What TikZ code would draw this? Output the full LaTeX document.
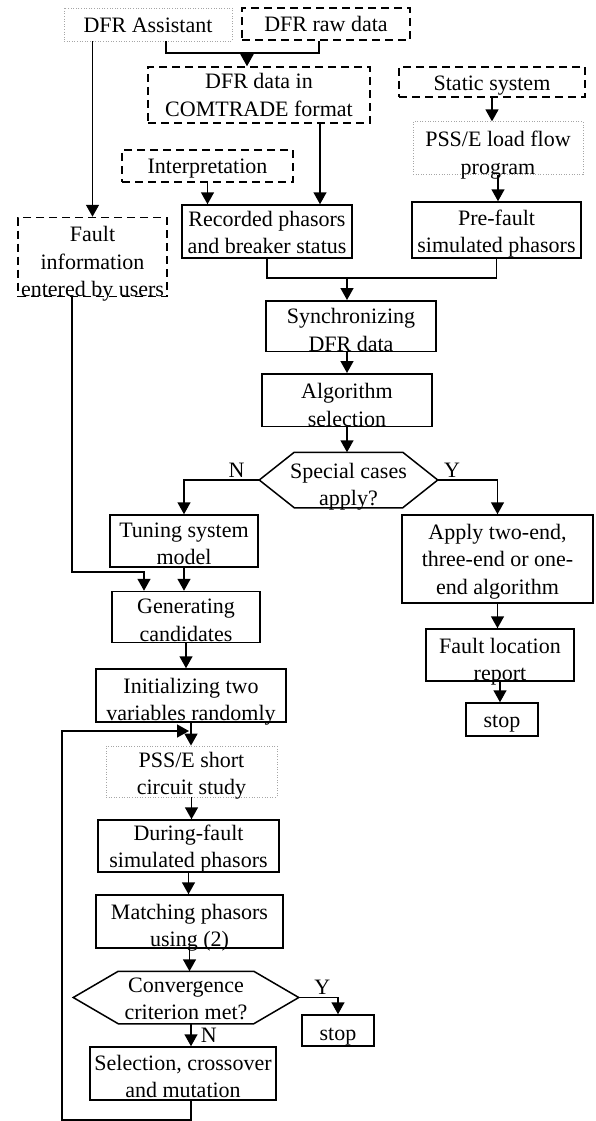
\documentclass[tikz,border=0pt]{standalone}
\usepackage{fontspec}
\setmainfont{Liberation Serif}
\usetikzlibrary{shapes,arrows.meta,calc}

\begin{document}
\begin{tikzpicture}[
  x=1pt, y=-1pt,
  every node/.style={font=\fontsize{22}{27.5}\selectfont},
  base/.style={anchor=center, align=center, inner sep=0pt, line width=1.5pt},
  sz/.style n args={3}{minimum width=#1, text height=#2, text depth=#3},
  solidbox/.style={base, draw, rectangle},
  dashbox/.style={base, draw, rectangle, dash pattern=on 8pt off 5pt},
  dotbox/.style={base, draw=gray!70, rectangle, line width=0.8pt, dash pattern=on 1pt off 1.6pt},
  hexbox/.style={base, rectangle},
  lbl/.style={inner sep=2pt},
  line/.style={line width=1.5pt},
  arr/.style={line, -{Triangle[length=12pt,width=13pt]}}
  ]
  \useasboundingbox (0,0) rectangle (595,1121);

  \node[dotbox, sz={168pt}{25pt}{8pt}] (asst) at (148,24.5) {DFR Assistant};
  \node[dashbox, sz={168pt}{24pt}{8pt}] (raw) at (326,24) {DFR raw data};
  \node[dashbox, sz={222pt}{49.5pt}{6.5pt}] (comtrade) at (259,95) {DFR data in\\COMTRADE format};
  \node[dashbox, sz={171pt}{23pt}{9pt}] (interp) at (207.5,166) {Interpretation};
  \node[dashbox, sz={186pt}{24pt}{6pt}] (static) at (492,82) {Static system};
  \node[dotbox, sz={170pt}{52.5pt}{-0.5pt}] (lflow) at (498,148) {PSS/E load flow\\program};
  \node[dashbox, sz={149pt}{79pt}{-1pt}] (fault) at (92.5,257) {Fault\\information\\entered by users};
  \node[solidbox, sz={170pt}{48.5pt}{4.5pt}] (rec) at (267,231.5) {Recorded phasors\\and breaker status};
  \node[solidbox, sz={169pt}{50.5pt}{5.5pt}] (pre) at (496.5,230) {Pre-fault\\simulated phasors};
  \node[solidbox, sz={170pt}{50.5pt}{-2.5pt}] (sync) at (351,326) {Synchronizing\\DFR data};
  \node[solidbox, sz={170pt}{52.5pt}{-2.5pt}] (algo) at (347,400) {Algorithm\\selection};
  \node[hexbox, sz={177pt}{52.5pt}{1.5pt}] (special) at (348.5,480) {Special cases\\apply?};
  \node[solidbox, sz={148pt}{49.5pt}{2.5pt}] (tune) at (184,541) {Tuning system\\model};
  \node[solidbox, sz={148pt}{49.5pt}{1.5pt}] (gen) at (186,617) {Generating\\candidates};
  \node[solidbox, sz={191pt}{79pt}{9pt}] (apply) at (497.5,559) {Apply two-end,\\three-end or one-\\end algorithm};
  \node[solidbox, sz={148pt}{51.5pt}{0.5pt}] (report) at (500,655) {Fault location\\report};
  \node[solidbox, sz={72pt}{24pt}{9pt}] (stop1) at (502,719.5) {stop};
  \node[solidbox, sz={190pt}{51.5pt}{1.5pt}] (init) at (191,695.5) {Initializing two\\variables randomly};
  \node[dotbox, sz={171pt}{48.5pt}{2.5pt}] (psse) at (191.5,771.5) {PSS/E short\\circuit study};
  \node[solidbox, sz={181pt}{47.5pt}{4.5pt}] (during) at (188.5,846) {During-fault\\simulated phasors};
  \node[solidbox, sz={187pt}{51.5pt}{1.5pt}] (match) at (189.5,921.5) {Matching phasors\\using (2)};
  \node[hexbox, sz={224pt}{47.5pt}{3.5pt}] (conv) at (186,997.5) {Convergence\\criterion met?};
  \node[solidbox, sz={72pt}{25pt}{6pt}] (stop2) at (338,1030.5) {stop};
  \node[solidbox, sz={186pt}{50.5pt}{2.5pt}] (sel) at (183,1073.5) {Selection, crossover\\and mutation};

  \draw[line] (special.west) -- ([xshift=35pt]special.north west) -- ([xshift=-35pt]special.north east)
    -- (special.east) -- ([xshift=-35pt]special.south east) -- ([xshift=35pt]special.south west) -- cycle;
  \draw[line] (conv.west) -- ([xshift=45pt]conv.north west) -- ([xshift=-45pt]conv.north east)
    -- (conv.east) -- ([xshift=-45pt]conv.south east) -- ([xshift=45pt]conv.south west) -- cycle;

  \coordinate (jA) at (247,53);
  \coordinate (xr) at (320,0);
  \coordinate (jB) at (347,278);
  \coordinate (xf) at (72,0);
  \coordinate (jC) at (144,572);
  \coordinate (xm) at (191,0);
  \coordinate (lb) at (62,1120);
  \coordinate (jD) at (189,731);

  \draw[arr] (asst.south -| fault.north) -- (fault.north);
  \draw[line] ([xshift=18pt]asst.south) |- (jA) -| ([xshift=-7pt]raw.south);
  \draw[arr] (jA) -- (jA |- comtrade.north);
  \draw[arr] (comtrade.south -| xr) -- (rec.north -| xr);
  \draw[arr] (interp.south) -- (interp.south |- rec.north);
  \draw[arr] (static.south) -- (static.south |- lflow.north);
  \draw[arr] (lflow.south) -- (lflow.south |- pre.north);
  \draw[line] (rec.south) |- (jB) -| (pre.south);
  \draw[arr] (jB) -- (jB |- sync.north);
  \draw[arr] (sync.south -| algo) -- (algo.north);
  \draw[arr] (algo.south) -- (algo.south |- special.north);
  \draw[arr] (special.west) -| node[lbl, above, pos=0.15] (lblN1) {N} (tune.north);
  \draw[arr] (special.east) -| node[lbl, above, pos=0.12] (lblY1) {Y} (apply.north);
  \draw[arr] (tune.south) -- (tune.south |- gen.north);
  \draw[arr] (fault.south -| xf) |- (jC) -- (jC |- gen.north);
  \draw[arr] (gen.south) -- (gen.south |- init.north);
  \draw[arr] (apply.south) -- (apply.south |- report.north);
  \draw[arr] (report.south) -- (report.south |- stop1.north);
  \draw[arr] (init.south) -- (init.south |- psse.north);
  \draw[arr] (psse.south) -- (psse.south |- during.north);
  \draw[arr] (during.south) -- (during.south |- match.north);
  \draw[arr] (match.south) -- (match.south |- conv.north);
  \draw[arr] (conv.east) -| node[lbl, above, pos=0.3] (lblY2) {Y} (stop2.north);
  \draw[arr] (conv.south -| xm) -- node[lbl, right, xshift=7pt, pos=0.5] (lblN2) {N} (sel.north -| xm);
  \draw[arr] (sel.south -| xm) |- (lb) |- (jD);

\end{tikzpicture}
\end{document}
